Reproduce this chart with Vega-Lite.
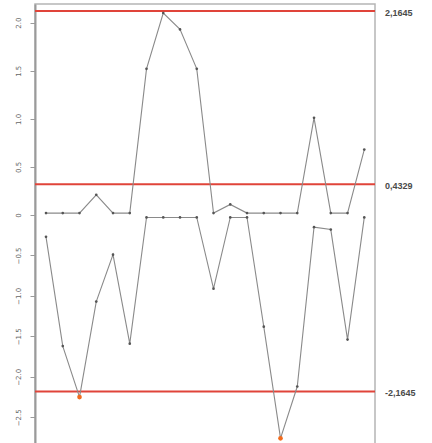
{
  "$schema": "https://vega.github.io/schema/vega-lite/v6.json",
  "width": 340,
  "height": 442,
  "autosize": "none",
  "padding": {"left": 35, "top": 4, "right": 57, "bottom": -3},
  "background": "white",
  "config": {"view": {"stroke": "#b5b5b5", "strokeWidth": 1.5}},
  "datasets": {
    "cusum": [
      {"i": 1, "upper": 0.02, "lower": -0.27},
      {"i": 2, "upper": 0.02, "lower": -1.62},
      {"i": 3, "upper": 0.02, "lower": -2.25},
      {"i": 4, "upper": 0.21, "lower": -1.07},
      {"i": 5, "upper": 0.02, "lower": -0.49},
      {"i": 6, "upper": 0.02, "lower": -1.59},
      {"i": 7, "upper": 1.52, "lower": -0.03},
      {"i": 8, "upper": 2.10, "lower": -0.03},
      {"i": 9, "upper": 1.93, "lower": -0.03},
      {"i": 10, "upper": 1.52, "lower": -0.03},
      {"i": 11, "upper": 0.02, "lower": -0.91},
      {"i": 12, "upper": 0.11, "lower": -0.03},
      {"i": 13, "upper": 0.02, "lower": -0.03},
      {"i": 14, "upper": 0.02, "lower": -1.38},
      {"i": 15, "upper": 0.02, "lower": -2.76},
      {"i": 16, "upper": 0.02, "lower": -2.12},
      {"i": 17, "upper": 1.01, "lower": -0.15},
      {"i": 18, "upper": 0.02, "lower": -0.18},
      {"i": 19, "upper": 0.02, "lower": -1.54},
      {"i": 20, "upper": 0.68, "lower": -0.03}
    ],
    "limits": [
      {"y": 2.12, "label": "2,1645"},
      {"y": 0.32, "label": "0,4329"},
      {"y": -2.18, "label": "-2,1645"}
    ]
  },
  "layer": [
    {
      "data": {"name": "limits"},
      "mark": {"type": "rule", "color": "#e0443a", "strokeWidth": 2},
      "encoding": {
        "y": {"field": "y", "type": "quantitative", "title": null,
          "scale": {"type": "linear", "domain": [-2.855, 0, 2.194], "range": [442, 211, 0], "nice": false, "zero": false},
          "axis": {
            "values": [-2.5, -2, -1.5, -1, -0.5, 0, 0.5, 1, 1.5, 2],
            "labelExpr": "datum.value == 0 ? '0' : format(datum.value, '.1f')",
            "labelAngle": -90,
            "labelAlign": "center",
            "labelFontSize": 7,
            "labelColor": "#666666",
            "labelFont": "DejaVu Sans",
            "labelPadding": 9,
            "tickSize": 5,
            "tickColor": "#9a9a9a",
            "domainColor": "#9a9a9a",
            "domainWidth": 2,
            "grid": false
          }
        }
      }
    },
    {
      "data": {"name": "cusum"},
      "transform": [{"fold": ["upper", "lower"], "as": ["series", "value"]}],
      "mark": {"type": "line", "color": "#8a8a8a", "strokeWidth": 1.1,
        "point": {"filled": true, "size": 7, "color": "#555555"}},
      "encoding": {
        "x": {"field": "i", "type": "quantitative", "axis": null,
          "scale": {"domain": [0.343, 20.64], "nice": false, "zero": false}},
        "y": {"field": "value", "type": "quantitative", "title": null},
        "detail": {"field": "series"}
      }
    },
    {
      "data": {"name": "cusum"},
      "transform": [{"filter": "datum.lower < -2.1645"}],
      "mark": {"type": "point", "filled": true, "size": 22, "color": "#f26b1d", "opacity": 1},
      "encoding": {
        "x": {"field": "i", "type": "quantitative"},
        "y": {"field": "lower", "type": "quantitative", "title": null}
      }
    },
    {
      "data": {"name": "limits"},
      "mark": {"type": "text", "align": "left", "baseline": "middle", "dx": 10, "dy": 2,
        "fontSize": 9, "fontWeight": "bold", "color": "#4a4a4a", "font": "Liberation Sans"},
      "encoding": {
        "x": {"datum": 20.64, "type": "quantitative"},
        "y": {"field": "y", "type": "quantitative", "title": null},
        "text": {"field": "label"}
      }
    }
  ]
}
